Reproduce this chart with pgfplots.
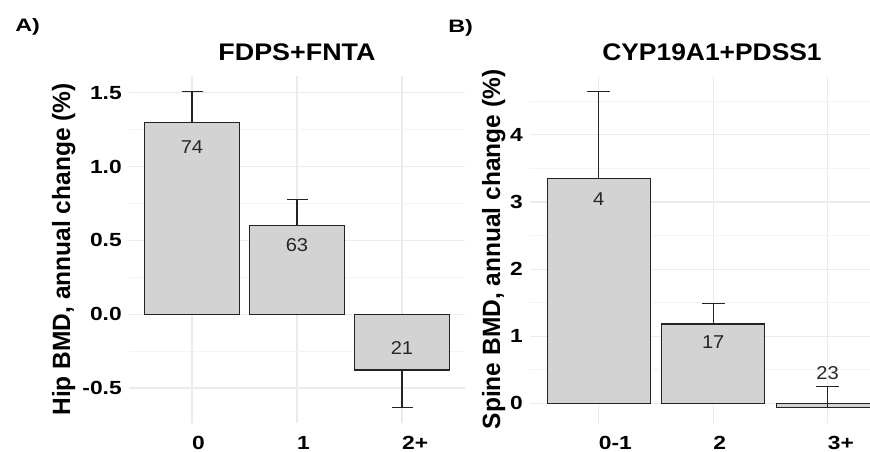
\documentclass[border=0pt]{standalone}
\usepackage{pgfplots}
\pgfplotsset{compat=1.18}
\usepackage{fontspec}
\setmainfont{Liberation Sans}
\definecolor{gridmaj}{RGB}{235,235,235}
\definecolor{gridmin}{RGB}{244,244,244}
\definecolor{barfill}{RGB}{211,211,211}
\definecolor{edge}{RGB}{35,35,35}
\pgfplotsset{
  panel/.style={
    scale only axis, anchor=south west,
    axis line style={draw=none}, tick style={draw=none},
    grid=both,
    major grid style={color=gridmaj, line width=1.1pt},
    minor grid style={color=gridmin, line width=0.7pt},
    xmin=-0.6, xtick={0,1,2},
    yticklabel style={font=\fontsize{19}{19}\selectfont\bfseries, anchor=east, inner sep=0pt, xshift=-7pt, xscale=1.2},
    xticklabel style={font=\fontsize{19}{19}\selectfont\bfseries, anchor=base west, inner sep=0pt, yshift=-26pt, xscale=1.2},
  },
  bars/.style={ybar, bar width=0.9, fill=barfill, draw=edge, line width=1.2pt},
  errs/.style={draw=none, mark=none, forget plot,
    error bars/.cd, y dir=both, y explicit,
    error bar style={draw=edge, line width=1.2pt},
    error mark options={rotate=90, draw=edge, line width=1.2pt, mark size=#1}},
}
\tikzset{lab/.style={font=\fontsize{18.6}{18.6}\selectfont, xscale=1.08, text=black!85, inner sep=0pt}}
\begin{document}
\begin{tikzpicture}
\path[use as bounding box] (0,0) rectangle (870pt,-452pt);
% Panel A
\begin{axis}[panel, at={(129pt,-423pt)}, width=336pt, height=347pt,
  xmax=2.6, ymin=-0.737, ymax=1.614,
  xticklabels={0,1,2+},
  ytick={-0.5,0,0.5,1,1.5}, yticklabels={-0.5,0.0,0.5,1.0,1.5},
  minor ytick={-0.25,0.25,0.75,1.25}]
\addplot[bars] coordinates {(0,1.30) (1,0.60) (2,-0.378)};
\addplot[errs=10.5pt] table[x=x, y=y, y error plus=ep, y error minus=em] {
x y ep em
0 1.30 0.207 0
1 0.60 0.177 0
2 -0.378 0 0.252
};
\node[lab] at (axis cs:0,1.133) {74};
\node[lab] at (axis cs:1,0.466) {63};
\node[lab] at (axis cs:2,-0.232) {21};
\end{axis}
% Panel B
\begin{axis}[panel, at={(530pt,-423pt)}, width=340pt, height=347pt,
  xmax=2.37, ymin=-0.295, ymax=4.879,
  xticklabels={0-1,2,3+},
  ytick={0,1,2,3,4}, yticklabels={0,1,2,3,4},
  minor ytick={0.5,1.5,2.5,3.5,4.5}]
\addplot[bars] coordinates {(0,3.35) (1,1.18) (2,-0.06)};
\addplot[errs=11.4pt] table[x=x, y=y, y error plus=ep, y error minus=em] {
x y ep em
0 3.35 1.294 0
1 1.18 0.307 0
2 -0.06 0.31 0
};
\node[lab] at (axis cs:0,3.04) {4};
\node[lab] at (axis cs:1,0.916) {17};
\node[lab] at (axis cs:2,0.45) {23};
\end{axis}
% titles and labels
\node[anchor=base, font=\fontsize{24}{24}\selectfont\bfseries, xscale=1.12, inner sep=0pt] at (297pt,-60.7pt) {FDPS+FNTA};
\node[anchor=base, font=\fontsize{24}{24}\selectfont\bfseries, xscale=1.1, inner sep=0pt] at (712pt,-60.7pt) {CYP19A1+PDSS1};
\node[anchor=base, rotate=90, font=\fontsize{25}{25}\selectfont\bfseries, xscale=0.98, inner sep=0pt] at (70pt,-249.5pt) {Hip BMD, annual change (\%)};
\node[anchor=base, rotate=90, font=\fontsize{25}{25}\selectfont\bfseries, xscale=0.98, inner sep=0pt] at (500pt,-249.5pt) {Spine BMD, annual change (\%)};
\node[anchor=base west, font=\fontsize{18}{18}\selectfont\bfseries, xscale=1.3, inner sep=0pt] at (15pt,-32pt) {A)};
\node[anchor=base west, font=\fontsize{18}{18}\selectfont\bfseries, xscale=1.3, inner sep=0pt] at (448pt,-33pt) {B)};
\end{tikzpicture}
\end{document}
